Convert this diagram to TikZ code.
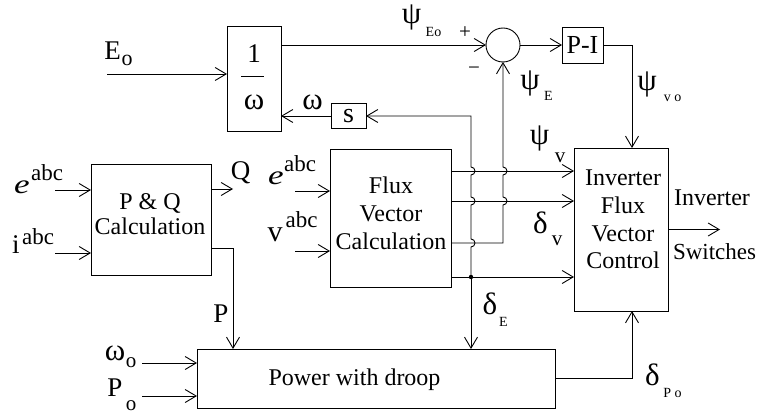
\documentclass[tikz,border=0pt]{standalone}
\usepackage{fontspec}
\setmainfont{Liberation Serif}
\usetikzlibrary{arrows.meta}
\newcommand\fs[1]{\fontsize{#1}{#1}\selectfont}
\begin{document}
\begin{tikzpicture}[x=1pt,y=-1pt,
  every node/.style={font=\fs{24}, inner sep=0pt, outer sep=0pt},
  box/.style={draw, line width=0.9pt},
  wire/.style={line width=0.9pt},
  arr/.style={wire, -{Straight Barb[length=11pt,width=13pt,line width=0.9pt]}},
  sub/.style={font=\fs{14}},
  mid/.style={font=\fs{21}},
  sup/.style={font=\fs{23}},
  big/.style={font=\fs{27}},
  gr/.style={font=\fs{31}},
]
\useasboundingbox (0,0) rectangle (760,414);

% ---- blocks
\node[box, minimum width=54, minimum height=105] (oneover) at (254,78.5) {};
\node[big] (one) at (254,54) {1};
\node[gr] (om) at (254,102.5) {ω};
\draw[wire] (241,76) -- (264,76);

\node[box, minimum width=35, minimum height=25, font=\fs{28}] (s) at (348.5,116) {s};
\node[draw, circle, line width=0.9pt, minimum size=34] (sum) at (503,45) {};
\node[box, minimum width=41, minimum height=36, font=\fs{26}] (pi) at (582.5,45) {P-I};

\node[box, minimum width=120, minimum height=111] (pq) at (151,219.5) {};
\node[align=center, font=\fontsize{24}{25}\selectfont] (pqtxt) at (150,214) {P \& Q\\Calculation};

\node[box, minimum width=121, minimum height=138] (flux) at (390.5,218) {};
\node[align=center, font=\fontsize{24}{28}\selectfont] (fluxtxt) at (391,213.75) {Flux\\Vector\\Calculation};

\node[box, minimum width=94, minimum height=163] (inv) at (621,229.5) {};
\node[align=center, font=\fontsize{24}{27.7}\selectfont] (invtxt) at (623,219.5) {Inverter\\Flux\\Vector\\Control};

\node[box, minimum width=358, minimum height=59] (power) at (376,378.5) {};
\node[anchor=base] (powtxt) at (354.5,385) {Power with droop};

% ---- coordinates
\coordinate (eo) at (107,74);
\coordinate (o1) at (281,45);
\coordinate (f1) at (451,171);
\coordinate (f2) at (451,201);
\coordinate (fB) at (451,243);
\coordinate (f4) at (451,277);
\coordinate (bB) at (503,243);
\coordinate (jA) at (471,277);
\coordinate (invT) at (632,148);
\coordinate (invB) at (632,311);
\coordinate (pP) at (211,248);
\coordinate (pdrop) at (233,349);
\coordinate (qO) at (211,189);
\coordinate (ea) at (55,190);
\coordinate (ia) at (55,253);
\coordinate (eb) at (295,191);
\coordinate (vb) at (295,251);
\coordinate (wo) at (142,363);
\coordinate (po) at (142,396);

% ---- connectors
\draw[arr] (eo) -- (oneover.west |- eo);
\draw[arr] (o1) -- (sum.west);
\draw[arr] (sum.east) -- (pi.west);
\draw[arr] (pi.east) -| (invT);
\draw[arr] (s.west) -- (oneover.east |- s.west);
\draw[arr] (jA) -- ++(0,-30) arc[start angle=90,end angle=-90,radius=4]
   -- ++(0,-34) arc[start angle=90,end angle=-90,radius=4]
   -- ++(0,-22) arc[start angle=90,end angle=-90,radius=4]
   -- (jA |- s.east) -- (s.east);
\draw[arr] (fB) -- (bB) -- ++(0,-38) arc[start angle=90,end angle=-90,radius=4]
   -- ++(0,-22) arc[start angle=90,end angle=-90,radius=4]
   -- (sum.south);
\draw[arr] (f1) -- (inv.west |- f1);
\draw[arr] (f2) -- (inv.west |- f2);
\draw[arr] (f4) -- (inv.west |- f4);
\fill (jA) circle[radius=2.2];
\draw[arr] (jA) -- (jA |- power.north);
\draw[arr] (ea) -- (pq.west |- ea);
\draw[arr] (ia) -- (pq.west |- ia);
\draw[arr] (qO) -- ++(22,0);
\draw[arr] (pP) -| (pdrop);
\draw[arr] (eb) -- (flux.west |- eb);
\draw[arr] (vb) -- (flux.west |- vb);
\draw[arr] (wo) -- (power.west |- wo);
\draw[arr] (po) -- (power.west |- po);
\draw[arr] (power.east) -| (invB);
\draw[arr] (inv.east) -- ++(52,0);

% ---- labels
\node[big] (lE) at (112.5,50.5) {E};
\node[font=\fs{22}] (lEs) at (127,60.5) {o};
\node[gr] (lpsiEo) at (411.5,17) {ψ};
\node[sub] (lpsiEos) at (433.5,31.5) {Eo};
\node[mid] (lplus) at (465,32.5) {+};
\node[mid] (lminus) at (474,71) {−};
\node[gr] (lpsiE) at (530,83.5) {ψ};
\node[sub] (lpsiEs) at (548.5,96) {E};
\node[gr] (lpsivo) at (647,84.5) {ψ};
\node[sub] (lpsivos) at (672.5,98.5) {v o};
\node[gr] (lpsiv) at (539.5,138.5) {ψ};
\node[mid] (lpsivs) at (560,157.5) {v};
\node[gr] (ldv) at (540.5,223) {δ};
\node[mid] (ldvs) at (557,241) {v};
\node[gr] (ldE) at (490,304) {δ};
\node[sub] (ldEs) at (503.5,322) {E};
\node[gr] (ldP) at (652.5,375) {δ};
\node[sub] (ldPs) at (672.5,392.5) {P o};
\node[gr] (lw) at (312.5,102.5) {ω};
\node[big] (lQ) at (240.5,172.5) {Q};
\node[big] (lP) at (221,314) {P};
\node[gr] (lwo) at (115,353) {ω};
\node[mid] (lwos) at (131,363) {o};
\node[big] (lPo) at (115,388) {P};
\node[mid] (lPos) at (131,406) {o};
\node[anchor=base west] (linv) at (674,205) {Inverter};
\node[anchor=base west, font=\fs{23}] (lsw) at (673,259) {Switches};
\node[font=\fs{27}] (le1) at (22,187.5) {\scalebox{1.3}[1]{\itshape e}};
\node[sup] (le1s) at (47,173) {abc};
\node[font=\fs{27}] (li) at (16,244.5) {i};
\node[sup] (lis) at (38,236.5) {abc};
\node[font=\fs{27}] (le2) at (276,178.5) {\scalebox{1.3}[1]{\itshape e}};
\node[sup] (le2s) at (300,164) {abc};
\node[font=\fs{30}] (lv) at (275,234.5) {v};
\node[sup] (lvs) at (301.5,220) {abc};
\end{tikzpicture}
\end{document}
